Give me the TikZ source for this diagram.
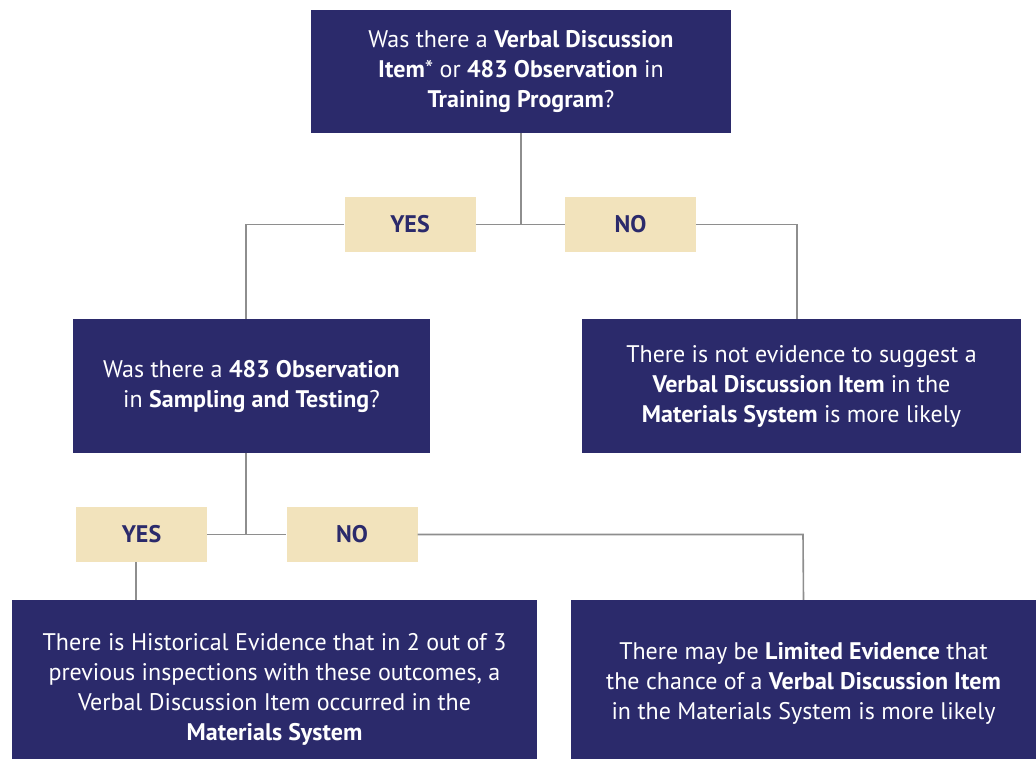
\documentclass[tikz,border=0pt]{standalone}
\usepackage{fontspec}
\setmainfont{PT Sans}
\usepackage{tikz}
\usepackage{xcolor}

\begin{document}
\begin{tikzpicture}[x=1pt,y=-1pt,
  question/.style={rectangle,fill=navy,text=white,align=center,inner sep=0pt,font=\fontsize{24}{30}\selectfont},
  answer/.style={rectangle,fill=sand,text=navy,minimum width=131,minimum height=55,inner sep=0pt,font=\fontsize{24}{28}\selectfont\bfseries},
  link/.style={draw=wire,line width=1.6pt}]
\definecolor{navy}{HTML}{2B2A6B}
\definecolor{sand}{HTML}{F2E3BC}
\definecolor{wire}{HTML}{8E8E8E}
\useasboundingbox (0,0) rectangle (1036,759);
\node [question,minimum width=420,minimum height=123] (top) at (521,71.5)
  {Was there a \textbf{Verbal Discussion}\\ \textbf{Item}* or \textbf{483 Observation} in\\ \textbf{Training Program}?};
\node [question,minimum width=357,minimum height=134] (lmid) at (251.5,386)
  {Was there a \textbf{483 Observation}\\ in \textbf{Sampling and Testing}?};
\node [question,minimum width=439,minimum height=134] (rmid) at (801.5,386)
  {There is not evidence to suggest a\\ \textbf{Verbal Discussion Item} in the\\ \textbf{Materials System} is more likely};
\node [question,minimum width=525,minimum height=178] (lbot) at (274.5,689)
  {There is Historical Evidence that in 2 out of 3\\ previous inspections with these outcomes, a\\ Verbal Discussion Item occurred in the\\ \textbf{Materials System}};
\node [question,minimum width=465,minimum height=166] (rbot) at (803.5,683)
  {There may be \textbf{Limited Evidence} that\\ the chance of a \textbf{Verbal Discussion Item}\\ in the Materials System is more likely};
  \foreach \nm/\txt/\px/\py in {yesa/YES/410/224.5,noa/NO/630.5/224.5,yesb/YES/141.5/534.5,nob/NO/352/534.5}
  {  \node [answer] (\nm) at (\px,\py) {\txt};}
\coordinate (ja) at (top.south |- yesa.east);
\coordinate (jb) at (yesa.west -| 246,0);
\coordinate (jc) at (noa.east -| 797,0);
\coordinate (jd) at (yesb.east -| 246,0);
\coordinate (je) at (nob.east -| 803,0);
\draw [link] (top.south) -- (ja);
\draw [link] (yesa.east) -- (noa.west);
\draw [link] (yesa.west) -- (jb) -- (jb |- lmid.north);
\draw [link] (noa.east) -- (jc) -- (jc |- rmid.north);
\draw [link] (jd |- lmid.south) -- (jd);
\draw [link] (yesb.east) -- (nob.west);
\draw [link] (nob.east) -- (je) -- (rbot.north);
\draw [link] (yesb.south -| 136,0) -- (lbot.north -| 136,0);
\end{tikzpicture}
\end{document}
